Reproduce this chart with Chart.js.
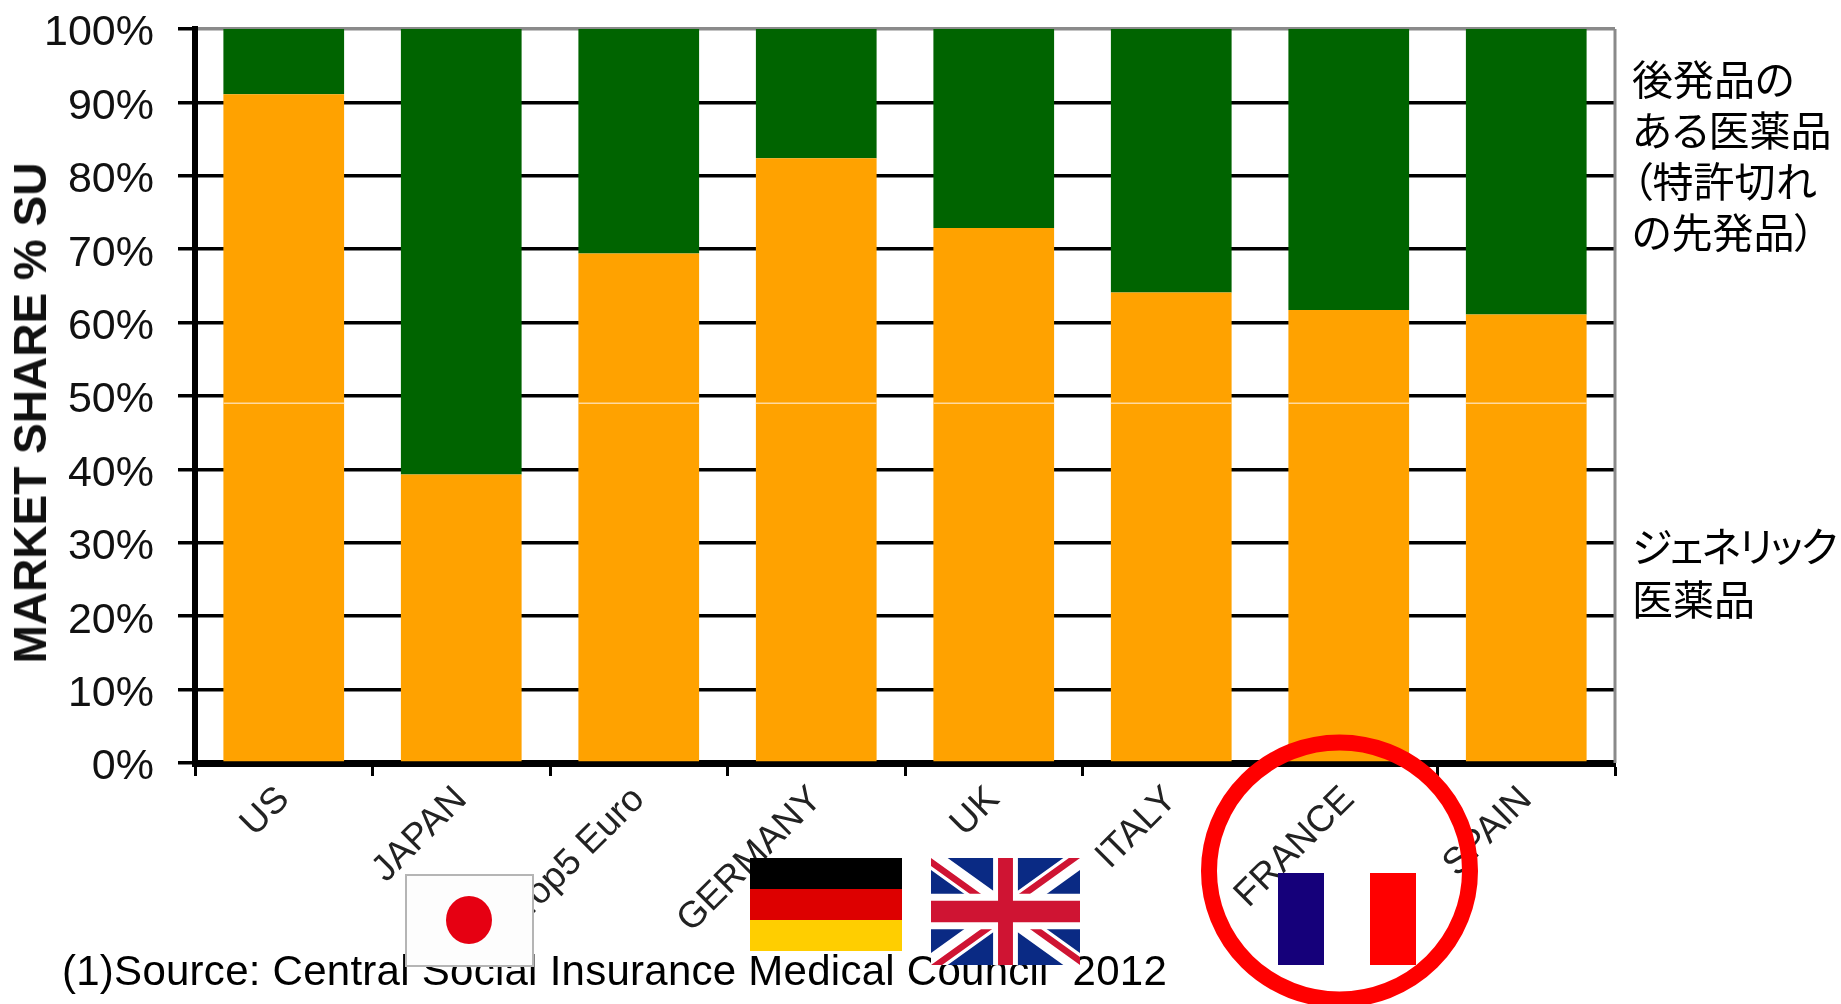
<!DOCTYPE html>
<html lang="ja"><head><meta charset="utf-8">
<style>
html,body{margin:0;padding:0;background:#fff;overflow:hidden}
#w{position:relative;width:1841px;height:1004px;overflow:hidden}
canvas{position:absolute;left:0;top:0}
.t{position:absolute;color:#000;white-space:nowrap}
.n{font-family:"Noto Sans CJK JP";font-size:41px;line-height:51px;left:1632px;font-feature-settings:"palt"}
.f{position:absolute}
</style>
<script src="https://cdn.jsdelivr.net/npm/chart.js@4"></script>
</head><body><div id="w">
<canvas id="c" width="1841" height="1004"></canvas>
<div class="t" style="left:62px;top:947px;font:42px 'Liberation Sans';letter-spacing:.26px">(1)Source: Central Social Insurance Medical Council&nbsp; 2012</div>
<div class="t" style="left:30px;top:413px;font:bold 46px 'Liberation Sans';color:#111;transform:translate(-50%,-50%) rotate(-90deg)">MARKET SHARE % SU</div>
<div class="t n" style="top:52px">後発品の<br>ある医薬品<br>（特許切れ<br>の先発品）</div>
<div class="t n" style="top:518px;line-height:53px"><span style="letter-spacing:-2px">ジェネリック</span><br>医薬品</div>
<svg class="f" style="left:0;top:0" width="1841" height="1004">
 <defs><clipPath id="t"><path d="M30,15h30v15zv15h-30zh-30v-15zv-15h30z"/></clipPath></defs>
 <rect x="406" y="875" width="127" height="91" fill="#fdfdfd" stroke="#b5b5b5" stroke-width="2"/>
 <ellipse cx="469" cy="920" rx="23" ry="24" fill="#e60012"/>
 <rect x="750" y="858" width="152" height="31" fill="#000"/>
 <rect x="750" y="889" width="152" height="31" fill="#dd0000"/>
 <rect x="750" y="920" width="152" height="31" fill="#ffce00"/>
 <svg x="931" y="858" width="149" height="107" viewBox="0 0 60 30" preserveAspectRatio="none">
  <rect width="60" height="30" fill="#0a2a84"/>
  <path d="M0,0L60,30M60,0L0,30" stroke="#fff" stroke-width="6"/>
  <path d="M0,0L60,30M60,0L0,30" stroke="#cf1433" stroke-width="4" clip-path="url(#t)"/>
  <path d="M30,0V30M0,15H60" stroke="#fff" stroke-width="10"/>
  <path d="M30,0V30M0,15H60" stroke="#cf1433" stroke-width="6"/>
 </svg>
 <rect x="1278" y="873" width="46" height="92" fill="#15007a"/>
 <rect x="1324" y="873" width="46" height="92" fill="#fff"/>
 <rect x="1370" y="873" width="46" height="92" fill="#ff0000"/>
 <ellipse cx="1339.5" cy="871" rx="130.5" ry="128.5" fill="none" stroke="#ff0000" stroke-width="16"/>
</svg>
</div>
<script>
const categories = ["US","JAPAN","Top5 Euro","GERMANY","UK","ITALY","FRANCE","SPAIN"];
const genericShare = [91.1,39.3,69.4,82.4,72.9,64.1,61.7,61.1];
const offPatentShare = [8.9,60.7,30.6,17.6,27.1,35.9,38.3,38.9];
const yTicks = [0,10,20,30,40,50,60,70,80,90,100];
const genericLabel = "ジェネリック医薬品";
const offPatentLabel = "後発品のある医薬品（特許切れの先発品）";
const seamLevel = 49;

const frame = {
  id:"frame",
  beforeDatasetsDraw(ch){
    const {ctx,chartArea:a}=ch;
    ctx.save();ctx.strokeStyle="#8a8a8a";ctx.lineWidth=3;
    ctx.beginPath();ctx.moveTo(a.right,a.top);ctx.lineTo(a.right,a.bottom);ctx.stroke();
    ctx.restore();
  },
  afterDatasetsDraw(ch){
    const {ctx,scales}=ch;
    const y=scales.y.getPixelForValue(seamLevel);
    ctx.save();ctx.strokeStyle="#ffd9a0";ctx.lineWidth=1.5;
    ch.getDatasetMeta(0).data.forEach((b,i)=>{
      if(genericShare[i]>seamLevel){
        ctx.beginPath();ctx.moveTo(b.x-b.width/2,y);ctx.lineTo(b.x+b.width/2,y);ctx.stroke();
      }
    });
    ctx.restore();
  }
};
new Chart(document.getElementById("c"),{
  type:"bar",
  data:{labels:categories,datasets:[
    {label:genericLabel,data:genericShare,backgroundColor:"#ffa200",borderWidth:0,barPercentage:.68,categoryPercentage:1},
    {label:offPatentLabel,data:offPatentShare,backgroundColor:"#006400",borderWidth:0,barPercentage:.68,categoryPercentage:1}
  ]},
  plugins:[frame],
  options:{
    responsive:false,animation:false,devicePixelRatio:1,
    layout:{padding:{top:29,right:226,left:0,bottom:0}},
    plugins:{legend:{display:false},tooltip:{enabled:false}},
    scales:{
      x:{stacked:true,
        afterFit(s){s.height=241},
        border:{color:"#000",width:7},
        grid:{drawOnChartArea:false,drawTicks:true,tickLength:13,tickWidth:3,tickColor:"#000",color:"#000"},
        ticks:{color:"#222",font:{family:"Liberation Sans",size:37},minRotation:45,maxRotation:45,autoSkip:false,padding:2}
      },
      y:{stacked:true,min:0,max:100,
        afterFit(s){s.width=195;s.paddingTop=0;s.paddingBottom=0},
        afterBuildTicks(s){s.ticks=yTicks.map(v=>({value:v}))},
        border:{color:"#000",width:6},
        grid:{lineWidth:3.5,tickLength:17,tickWidth:3.5,tickColor:"#000",
          color:c=>c.tick&&c.tick.value===100?"#8a8a8a":"#000"},
        ticks:{color:"#111",font:{family:"Liberation Sans",size:43,lineHeight:"9px"},padding:24,callback:v=>["",v+"%"]}
      }
    }
  }
});
</script></body></html>
